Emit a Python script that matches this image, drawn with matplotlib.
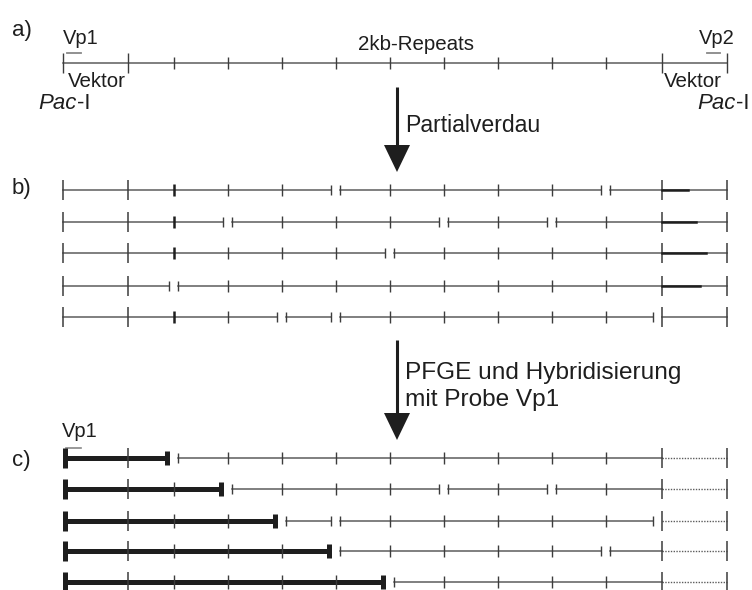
import matplotlib.pyplot as plt
from matplotlib.patches import Polygon

plt.rcParams['font.family'] = ['Liberation Sans', 'DejaVu Sans']

# restriction sites along the construct (kb), Pac-I ... Pac-I
sites = [0, 2.4, 4.1, 6.1, 8.1, 10.1, 12.1, 14.1, 16.1, 18.1, 20.1, 22.2, 24.6]
vector_sites = [0, 1, 11, 12]      # vector boundaries, drawn with long ticks
thick_sites = [2]                  # darker tick in b)

# partial digest products (index of sites that were cut)
b_cuts = [[5, 10], [3, 7, 9], [6], [2], [4, 5, 11]]
b_dark_end = [23.15, 23.45, 23.8, 23.6, None]   # dark stretch in right vector

# c) rows = hybridised b) rows, sorted by fragment length
c_from_b = [3, 1, 4, 0, 2]

# probes (kb)
vp1 = (0.15, 0.65)
vp2 = (23.85, 24.35)

# layout (px, 27 px per kb, 0 kb at x=63)
PX = 27.0
X0 = 63
row_a = 63
rows_b = [190, 222, 253, 286, 317]
rows_c = [458, 489, 521, 551, 582]
GAP = 0.17

def px(x):
    return (x - X0) / PX

thin = '#5c5c5c'
tick_c = '#3c3c3c'
dark = '#1e1e1e'
txt = '#1e1e1e'

fig = plt.figure(figsize=(7.52, 5.90), dpi=100)
ax = fig.add_axes([0, 0, 1, 1])
ax.set_xlim(px(0), px(752))
ax.set_ylim(590, 0)
ax.axis('off')


def tick(x, y, h, lw=1.0, color=tick_c):
    ax.plot([x, x], [y - h, y + h], color=color, lw=lw, solid_capstyle='butt')


def segments(cuts):
    segs, gaps = [], []
    start = sites[0]
    for i in sorted(cuts):
        s = sites[i]
        if i == 11:
            left, right = s - 0.33, s
        else:
            left, right = s - GAP, s + GAP
        segs.append((start, left))
        gaps.append((left, right))
        start = right
    segs.append((start, sites[-1]))
    return segs, gaps


# ---- a) intact construct ----
ax.plot([sites[0], sites[-1]], [row_a, row_a], color=thin, lw=1.1)
for i, s in enumerate(sites):
    tick(s, row_a, 10 if i in vector_sites else 6)
ax.plot(vp1, [53, 53], color='#888888', lw=1.3)
ax.plot(vp2, [53, 53], color='#888888', lw=1.3)

ax.text(px(12), 36, 'a)', fontsize=16, color=txt, va='baseline')
ax.text(px(63), 44, 'Vp1', fontsize=14.5, color=txt, va='baseline')
ax.text(px(699), 44, 'Vp2', fontsize=14.5, color=txt, va='baseline')
ax.text(px(416), 50, '2kb-Repeats', fontsize=14.8, color=txt, va='baseline', ha='center')
ax.text(px(68), 87, 'Vektor', fontsize=14.8, color=txt, va='baseline')
ax.text(px(664), 87, 'Vektor', fontsize=14.8, color=txt, va='baseline')
ax.text(px(77), 109, 'Pac', fontsize=16, style='italic', color=txt, va='baseline', ha='right')
ax.text(px(77), 109, '-I', fontsize=16, color=txt, va='baseline', ha='left')
ax.text(px(736), 109, 'Pac', fontsize=16, style='italic', color=txt, va='baseline', ha='right')
ax.text(px(736), 109, '-I', fontsize=16, color=txt, va='baseline', ha='left')


def arrow(x, y0, y1, hw=13, hl=27):
    ax.plot([px(x), px(x)], [y0, y1 - hl + 5], color=dark, lw=2.2, solid_capstyle='butt')
    ax.add_patch(Polygon([(px(x - hw), y1 - hl), (px(x + hw), y1 - hl), (px(x), y1)],
                         closed=True, color=dark, lw=0))


arrow(397, 87, 172)
ax.text(px(405), 132, 'Partialverdau', fontsize=16.6, color=txt, va='baseline')

# ---- b) partial digest ----
ax.text(px(12), 194, 'b)', fontsize=16, color=txt, va='baseline')
for y, cuts, dend in zip(rows_b, b_cuts, b_dark_end):
    segs, gaps = segments(cuts)
    for a, b in segs:
        ax.plot([a, b], [y, y], color=thin, lw=1.1)
    for i, s in enumerate(sites):
        if i in cuts:
            continue
        if i in vector_sites:
            tick(s, y, 10, lw=1.1)
        elif i in thick_sites:
            tick(s, y, 6, lw=1.8, color=dark)
        else:
            tick(s, y, 6)
    for left, right in gaps:
        tick(left, y, 5)
        if right == sites[11]:
            tick(right, y, 10, lw=1.1)
        else:
            tick(right, y, 5)
    if dend is not None:
        ax.plot([sites[11], dend], [y, y], color=dark, lw=1.8)

arrow(397, 340, 440)
ax.text(px(405), 379, 'PFGE und Hybridisierung', fontsize=17.6, color=txt, va='baseline')
ax.text(px(405), 406, 'mit Probe Vp1', fontsize=17.6, color=txt, va='baseline')

# ---- c) hybridisation with Vp1 ----
ax.text(px(12), 466, 'c)', fontsize=16, color=txt, va='baseline')
ax.text(px(62), 437, 'Vp1', fontsize=14.5, color=txt, va='baseline')
ax.plot([vp1[0] - 0.05, vp1[1]], [448, 448], color='#888888', lw=1.2)

for y, bi in zip(rows_c, c_from_b):
    cuts = b_cuts[bi]
    segs, gaps = segments(cuts)
    # labelled fragment: Pac-I site to first cut
    end = segs[0][1]
    ax.plot([sites[0], end], [y, y], color=dark, lw=3.6, solid_capstyle='butt')
    tick(sites[0] + 0.08, y, 10, lw=3.6, color=dark)
    tick(end - 0.08, y, 7, lw=3.6, color=dark)
    for a, b in segs[1:]:
        if b > sites[11]:
            if a < sites[11]:
                ax.plot([a, sites[11]], [y, y], color=thin, lw=1.1)
            ax.plot([max(a, sites[11]), b], [y, y], color=thin, lw=1.0, ls=(0, (1, 1)))
        else:
            ax.plot([a, b], [y, y], color=thin, lw=1.1)
    for i, s in enumerate(sites):
        if i in cuts or i == 0:
            continue
        if i in vector_sites:
            tick(s, y, 10, lw=1.1)
        else:
            tick(s, y, 7 if s < end else 6)
    for k, (left, right) in enumerate(gaps):
        if k > 0:
            tick(left, y, 5)
        if right == sites[11]:
            tick(right, y, 10, lw=1.1)
        else:
            tick(right, y, 5)

plt.savefig('out.png', dpi=100)
